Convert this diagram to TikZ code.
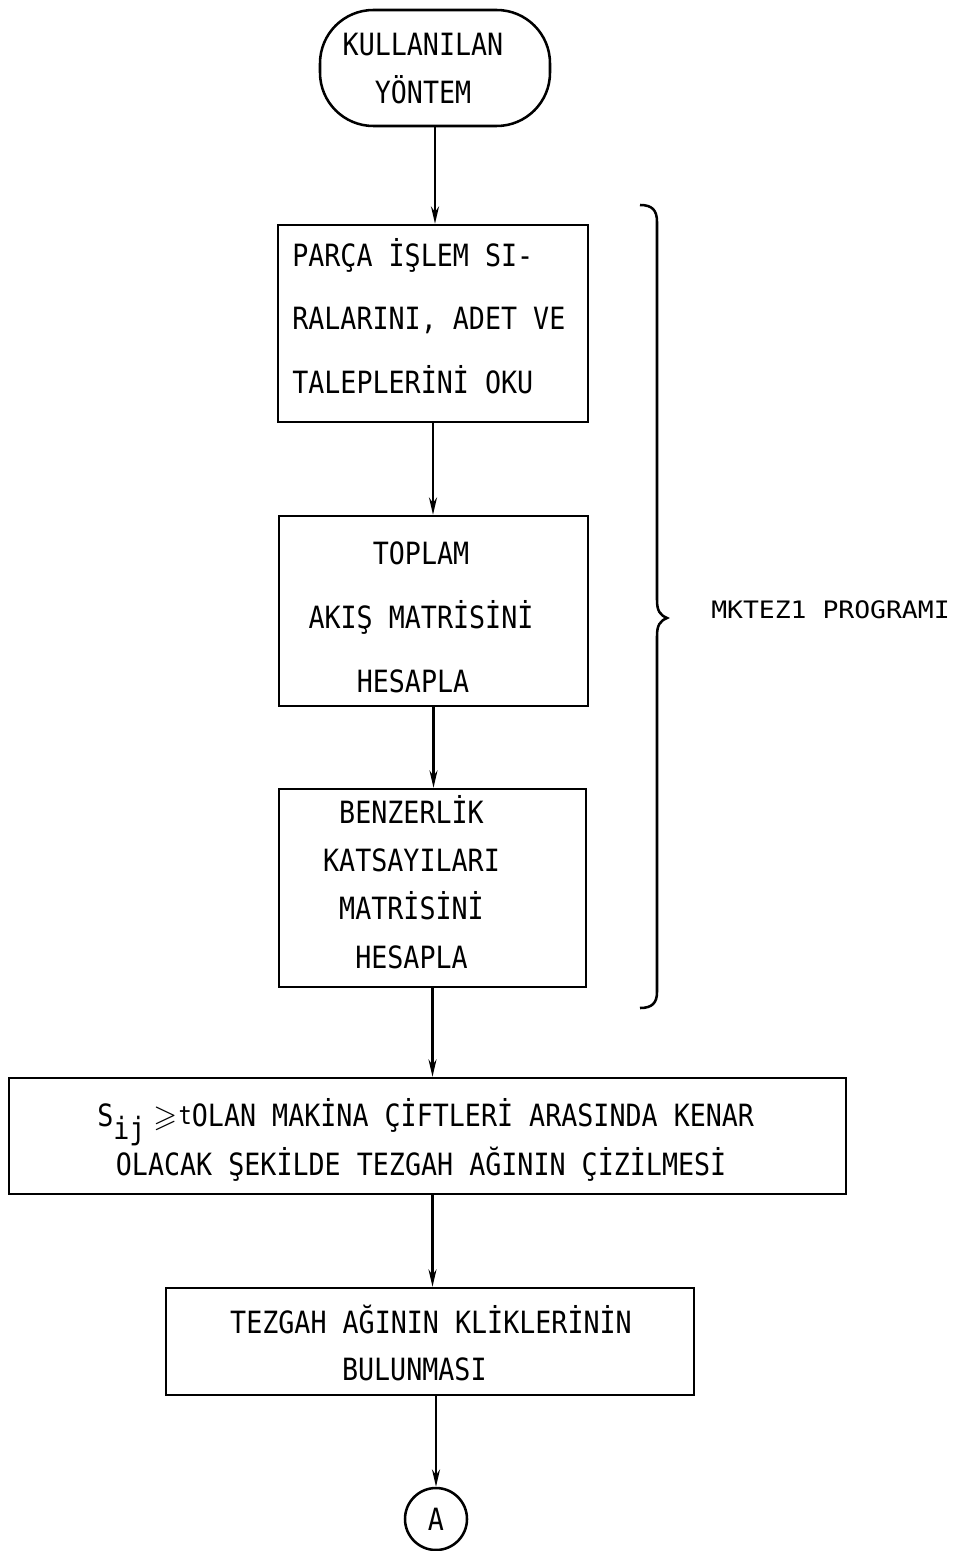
\documentclass[tikz,border=0pt]{standalone}
\usepackage{amssymb}
\usepackage{fontspec}
\newfontfamily\tw[FakeStretch=0.87]{DejaVu Sans Mono}
\newfontfamily\lab[FakeStretch=1.1]{DejaVu Sans Mono}
\usetikzlibrary{arrows.meta}
\tikzset{
  box/.style={draw, line width=1.9pt, rectangle, inner sep=0pt},
  txt/.style={inner sep=0pt, font=\tw\fontsize{23pt}{36pt}\selectfont},
  txtwide/.style={inner sep=0pt, font=\tw\fontsize{23pt}{48pt}\selectfont},
  arr/.style={line width=1.6pt, -{Stealth[length=13pt,width=6pt]}},
}
\begin{document}
\begin{tikzpicture}[x=0.75pt,y=-0.75pt]
\useasboundingbox (0,0) rectangle (958,1551);

% terminator
\node[box, rounded corners=40pt, minimum width=172.5pt, minimum height=87pt] (term) at (435,68) {};
\node[txt, align=center] (termt) at (423,68.5) {KULLANILAN\\YÖNTEM};

% box 1
\node[box, minimum width=232.5pt, minimum height=147.75pt] (b1) at (433,323.5) {};
\node[txt, font=\tw\fontsize{23pt}{47.6pt}\selectfont, align=left, anchor=west] (b1t) at (292,316) {PARÇA İŞLEM SI-\\RALARINI, ADET VE\\TALEPLERİNİ OKU};

% box 2
\node[box, minimum width=231.75pt, minimum height=142.5pt] (b2) at (433.5,611) {};
\node[txtwide, align=center] (b2t) at (421,617) {TOPLAM\\AKIŞ MATRİSİNİ\\HESAPLA\hspace*{12pt}};

% box 3
\node[box, minimum width=230.25pt, minimum height=148.5pt] (b3) at (432.5,888) {};
\node[txt, font=\tw\fontsize{23pt}{36.2pt}\selectfont, align=center] (b3t) at (411.5,882) {BENZERLİK\\KATSAYILARI\\MATRİSİNİ\\HESAPLA};

% box 4
\node[box, minimum width=627.75pt, minimum height=87pt] (b4) at (427.5,1136) {};
\node[txt, align=left, anchor=west] (b4t) at (97,1140) {S\raisebox{-10pt}{ij}\hspace{6pt}$\geqslant$\hspace{1pt}\raisebox{1pt}{\fontsize{19pt}{19pt}\selectfont t}OLAN MAKİNA ÇİFTLERİ ARASINDA KENAR\\\hspace*{14pt}OLACAK ŞEKİLDE TEZGAH AĞININ ÇİZİLMESİ};

% box 5
\node[box, minimum width=396pt, minimum height=80.25pt] (b5) at (430,1341.5) {};
\node[txt, font=\tw\fontsize{23pt}{35.3pt}\selectfont, align=center] (b5t) at (431,1343) {TEZGAH AĞININ KLİKLERİNİN\\BULUNMASI\hspace*{25pt}};

% connector circle
\node[draw, line width=1.9pt, circle, minimum size=46.5pt, inner sep=0pt, font=\tw\fontsize{23pt}{28pt}\selectfont] (ca) at (436,1519) {A};

% arrows
\draw[arr] (term.south) -- (term.south |- b1.north);
\draw[arr] (b1.south) -- (b1.south |- b2.north);
\draw[arr] (b2.south) -- (b2.south |- b3.north);
\draw[arr] (b3.south) -- (b3.south |- b4.north);
\draw[arr] (b3.south |- b4.south) -- (b3.south |- b5.north);
\draw[arr] (ca.north |- b5.south) -- (ca.north);

% brace
\draw[line width=1.9pt] (640,205) .. controls (652,205) and (657,210) .. (657,222)
  -- (657,600) .. controls (657,611) and (660,615) .. (667,618)
  .. controls (660,621) and (657,625) .. (657,636)
  -- (657,992) .. controls (657,1003) and (652,1008) .. (640,1008);
\node[inner sep=0pt, anchor=west, font=\lab\fontsize{18pt}{20pt}\selectfont] (prog) at (711,610) {MKTEZ1 PROGRAMI};
\end{tikzpicture}
\end{document}
